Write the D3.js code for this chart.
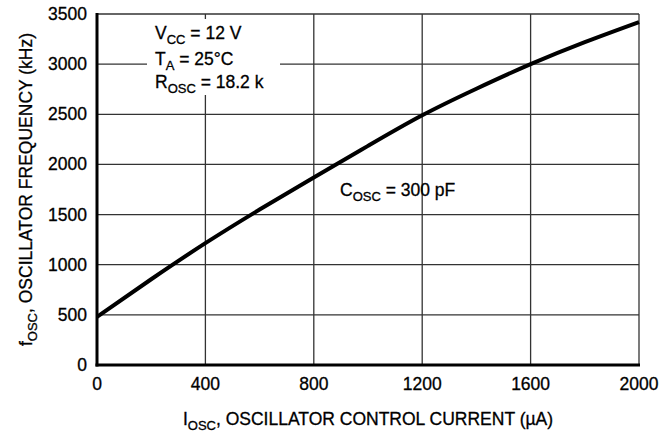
<!DOCTYPE html>
<html><head><meta charset="utf-8">
<script src="https://cdn.jsdelivr.net/npm/d3@7/dist/d3.min.js"></script>
<style>body{margin:0;background:#fff}svg{display:block}text{font-family:"Liberation Sans",Arial,sans-serif;fill:#000;stroke:#000;stroke-width:0.3px}</style>
</head><body><svg id="c" width="671" height="435"></svg>
<script>
const currents = [0, 200, 400, 600, 800, 1000, 1200, 1400, 1600, 1800, 2000];
const freqs    = [480, 855, 1215, 1550, 1870, 2185, 2490, 2755, 3000, 3220, 3420];
const xTicks = [0, 400, 800, 1200, 1600, 2000];
const yTicks = [0, 500, 1000, 1500, 2000, 2500, 3000, 3500];

const svg = d3.select("#c");
const L = 97, R = 639, T = 14, B = 365;
const x = d3.scaleLinear().domain([0, 2000]).range([L, R]);
const y = d3.scaleLinear().domain([0, 3500]).range([B, T]);

// grid
svg.append("g").selectAll("line").data(xTicks.slice(1)).join("line")
  .attr("x1", d => x(d)).attr("x2", d => x(d)).attr("y1", T).attr("y2", B)
  .attr("stroke", "#333").attr("stroke-width", 1.3);
svg.append("g").selectAll("line").data(yTicks.slice(1)).join("line")
  .attr("x1", L).attr("x2", R).attr("y1", d => y(d)).attr("y2", d => y(d))
  .attr("stroke", "#333").attr("stroke-width", 1.3);

// axes
svg.append("line").attr("x1", L).attr("x2", L).attr("y1", T - 1).attr("y2", B + 1.5).attr("stroke", "#000").attr("stroke-width", 3);
svg.append("line").attr("x1", L - 1.5).attr("x2", R + 1).attr("y1", B).attr("y2", B).attr("stroke", "#000").attr("stroke-width", 3);

// tick labels
svg.append("g").selectAll("text").data(yTicks).join("text")
  .attr("x", 87).attr("y", d => y(d) + 6).attr("text-anchor", "end")
  .attr("font-size", 17.5).text(d => d);
svg.append("g").selectAll("text").data(xTicks).join("text")
  .attr("x", d => x(d)).attr("y", 390).attr("text-anchor", "middle")
  .attr("font-size", 17.5).text(d => d);

// curve
const line = d3.line().x((d, i) => x(currents[i])).y(d => y(d)).curve(d3.curveNatural);
svg.append("path").attr("d", line(freqs)).attr("fill", "none").attr("stroke", "#000").attr("stroke-width", 4);

// annotation block with white background
const ann = svg.append("g");
ann.append("rect").attr("x", 147).attr("y", 19).attr("width", 133).attr("height", 76).attr("fill", "#fff");
function sub(g, xx, yy, main, s, rest, anchor) {
  const t = g.append("text").attr("x", xx).attr("y", yy).attr("font-size", 17.5).attr("text-anchor", anchor || "start");
  t.append("tspan").text(main);
  t.append("tspan").attr("font-size", 13).attr("dy", 5).text(s);
  t.append("tspan").attr("dy", -5).text(rest);
  return t;
}
sub(ann, 155, 39, "V", "CC", " = 12 V");
sub(ann, 155, 65, "T", "A", " = 25°C");
sub(ann, 155, 88, "R", "OSC", " = 18.2 k");
sub(svg, 340, 196, "C", "OSC", " = 300 pF");

// axis titles
sub(svg, x(1000), 425, "I", "OSC", ", OSCILLATOR CONTROL CURRENT (µA)", "middle");
const yt = sub(svg, 0, 0, "f", "OSC", ", OSCILLATOR FREQUENCY (kHz)", "middle");
yt.attr("transform", `translate(32,${(T + B) / 2}) rotate(-90)`);
</script></body></html>
